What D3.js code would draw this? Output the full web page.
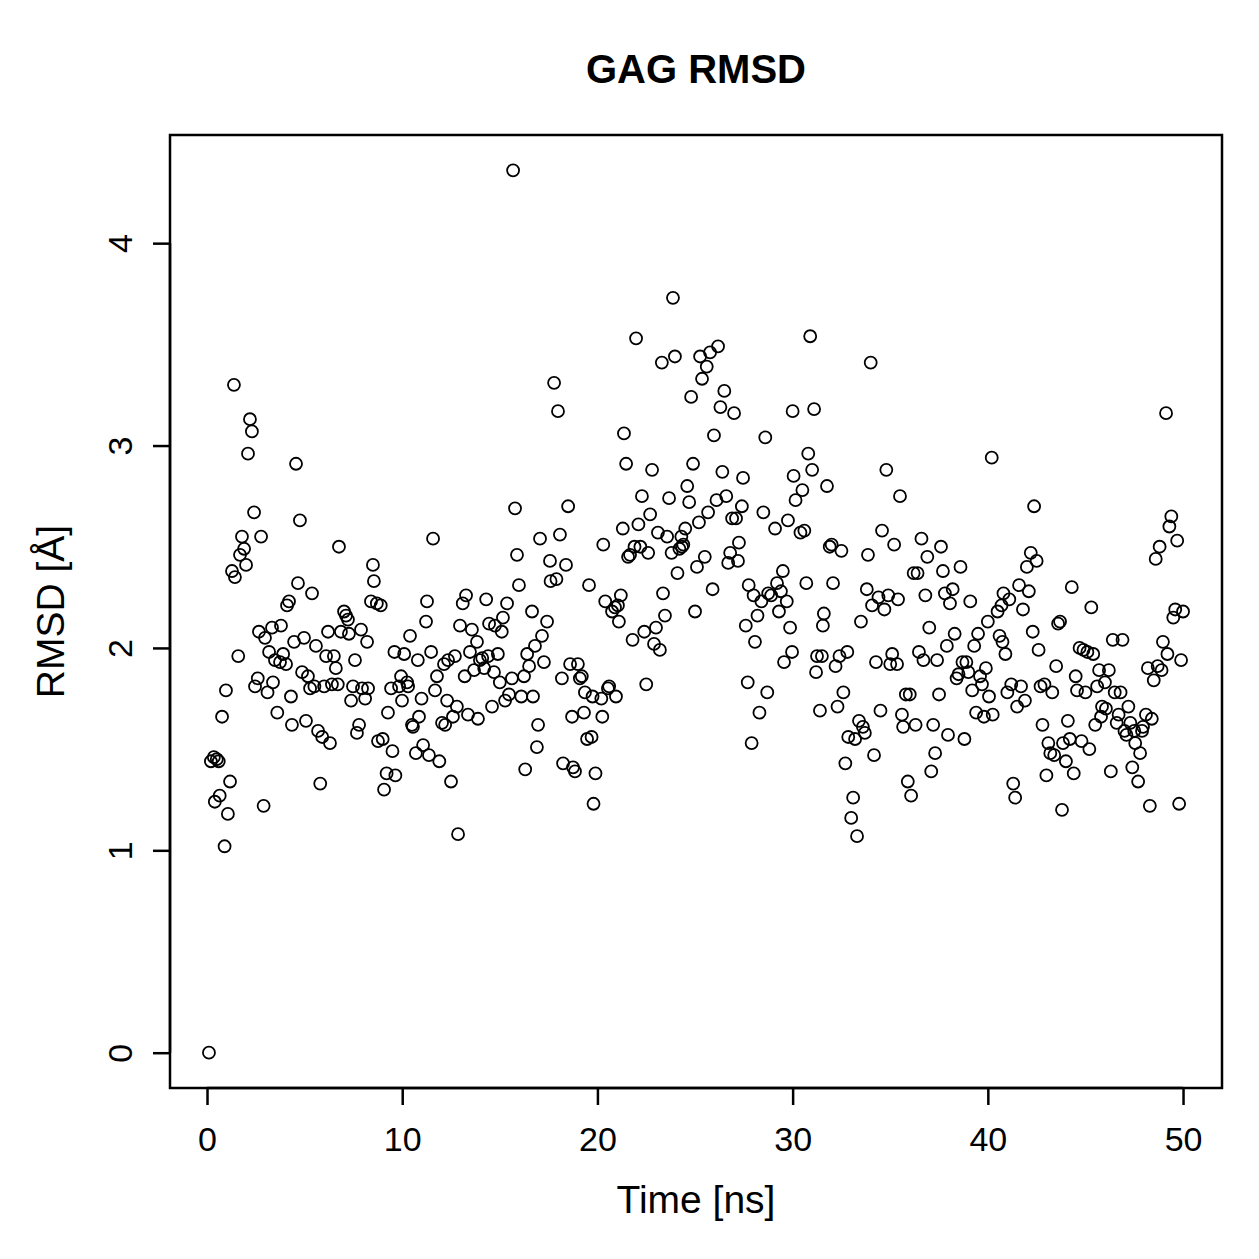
<!DOCTYPE html>
<html><head><meta charset="utf-8">
<script src="https://cdn.jsdelivr.net/npm/d3@7"></script>
<style>body{margin:0;background:#fff}svg{display:block}</style>
</head><body>
<script>
const chartTitle = "GAG RMSD";
const xLabel = "Time [ns]";
const yLabel = "RMSD [Å]";
const xTicks = [0, 10, 20, 30, 40, 50];
const yTicks = [0, 1, 2, 3, 4];

const timeNs = [
0.1,0.2,0.35,0.4,0.5,0.6,0.65,0.77,0.9,0.97,1.07,1.18,1.28,1.38,1.43,1.6,1.69,1.79,1.9,2.0,
2.1,2.2,2.3,2.41,2.46,2.6,2.66,2.77,2.9,2.97,3.1,3.18,3.33,3.38,3.48,3.6,3.74,3.79,3.9,4.05,
4.1,4.2,4.3,4.35,4.46,4.56,4.66,4.76,4.87,4.97,5.07,5.17,5.28,5.38,5.5,5.58,5.69,5.8,5.9,6.0,
6.1,6.2,6.3,6.4,6.5,6.6,6.7,6.76,6.86,7.02,7.12,7.22,7.27,7.38,7.48,7.58,7.68,7.79,7.89,7.94,
8.1,8.2,8.25,8.4,8.5,8.55,8.7,8.76,8.9,9.0,9.07,9.2,9.27,9.43,9.5,9.6,9.65,9.84,9.94,9.99,
10.1,10.25,10.3,10.4,10.5,10.55,10.7,10.8,10.86,10.99,11.07,11.22,11.27,11.37,11.48,11.58,11.68,11.78,11.9,12.04,
12.14,12.2,12.3,12.35,12.5,12.6,12.7,12.8,12.86,12.96,13.1,13.2,13.27,13.37,13.47,13.57,13.68,13.83,13.88,13.98,
14.1,14.2,14.3,14.4,14.45,14.6,14.7,14.75,14.9,15.0,15.1,15.16,15.27,15.37,15.47,15.62,15.68,15.78,15.88,15.98,
16.1,16.24,16.3,16.4,16.5,16.65,16.7,16.8,16.9,16.96,17.06,17.16,17.26,17.42,17.57,17.6,17.78,17.9,17.98,18.08,
18.18,18.24,18.39,18.5,18.6,18.7,18.75,18.85,19.0,19.1,19.2,19.31,19.36,19.47,19.57,19.7,19.75,19.8,19.9,20.2,
20.25,20.3,20.4,20.54,20.6,20.75,20.9,20.95,21.05,21.1,21.2,21.3,21.36,21.47,21.57,21.67,21.8,21.9,21.98,22.1,
22.2,22.28,22.4,22.5,22.6,22.7,22.8,22.9,23.0,23.1,23.2,23.3,23.36,23.46,23.57,23.67,23.8,23.87,23.97,24.1,
24.2,24.3,24.33,24.4,24.5,24.6,24.7,24.8,24.9,25.0,25.1,25.2,25.26,25.36,25.5,25.6,25.67,25.77,25.9,25.97,
26.1,26.18,26.3,26.4,26.5,26.6,26.7,26.8,26.9,27.0,27.1,27.2,27.25,27.4,27.46,27.6,27.7,27.75,27.9,28.0,
28.07,28.2,28.3,28.4,28.5,28.6,28.7,28.75,28.9,29.1,29.2,29.3,29.4,29.5,29.56,29.7,29.76,29.87,29.97,30.0,
30.05,30.15,30.4,30.5,30.6,30.7,30.8,30.9,31.0,31.1,31.2,31.25,31.4,31.5,31.55,31.6,31.76,31.9,32.0,32.07,
32.2,32.3,32.4,32.5,32.6,32.7,32.8,32.85,33.0,33.1,33.2,33.3,33.4,33.5,33.6,33.7,33.8,33.86,34.0,34.07,
34.17,34.27,34.4,34.5,34.58,34.7,34.8,34.9,35.0,35.1,35.2,35.35,35.4,35.5,35.6,35.66,35.8,35.9,36.0,36.07,
36.2,36.3,36.4,36.47,36.6,36.7,36.8,36.9,37.0,37.1,37.2,37.3,37.4,37.5,37.6,37.7,37.8,37.9,37.96,38.06,
38.2,38.3,38.4,38.5,38.6,38.7,38.8,38.9,39.0,39.1,39.2,39.3,39.4,39.5,39.6,39.7,39.8,39.9,40.0,40.06,
40.2,40.25,40.5,40.6,40.7,40.75,40.8,40.9,41.0,41.1,41.2,41.3,41.4,41.5,41.6,41.7,41.8,41.9,42.0,42.1,
42.2,42.3,42.37,42.5,42.6,42.7,42.8,42.9,43.0,43.1,43.2,43.3,43.4,43.5,43.6,43.7,43.8,43.85,44.0,44.1,
44.2,44.3,44.4,44.5,44.57,44.7,44.8,44.9,45.0,45.1,45.2,45.3,45.4,45.5,45.6,45.7,45.8,45.85,46.0,46.05,
46.2,46.3,46.4,46.5,46.6,46.7,46.8,46.9,47.0,47.1,47.2,47.3,47.4,47.5,47.55,47.7,47.8,47.9,47.95,48.1,
48.2,48.3,48.4,48.5,48.6,48.7,48.8,48.9,48.97,49.13,49.2,49.3,49.4,49.5,49.6,49.7,49.8,49.9,50.0
];

const rmsd = [
0.00,1.44,1.46,1.24,1.45,1.44,1.27,1.66,1.02,1.79,1.18,1.34,2.38,3.30,2.35,1.96,2.46,2.55,2.49,2.41,
2.96,3.13,3.07,2.67,1.81,1.85,2.08,2.55,1.22,2.05,1.78,1.98,2.10,1.83,1.94,1.68,1.93,2.11,1.97,1.92,
2.21,2.23,1.76,1.62,2.03,2.91,2.32,2.63,1.88,2.05,1.64,1.86,1.80,2.27,1.81,2.01,1.59,1.33,1.56,1.81,
1.96,2.08,1.53,1.82,1.96,1.90,1.82,2.50,2.08,2.18,2.16,2.14,2.07,1.74,1.81,1.94,1.58,1.62,2.09,1.80,
1.75,2.03,1.80,2.23,2.41,2.33,2.22,1.54,2.21,1.55,1.30,1.38,1.68,1.80,1.49,1.98,1.37,1.81,1.86,1.74,
1.97,1.83,1.81,2.06,1.62,1.61,1.48,1.94,1.66,1.75,1.52,2.13,2.23,1.47,1.98,2.54,1.79,1.86,1.44,1.63,
1.92,1.62,1.74,1.94,1.34,1.66,1.96,1.71,1.08,2.11,2.22,1.86,2.26,1.67,1.98,2.09,1.89,2.03,1.65,1.94,
1.95,1.90,2.24,1.96,2.12,1.71,1.88,2.11,1.97,1.83,2.08,2.15,1.74,2.22,1.77,1.85,4.36,2.69,2.46,2.31,
1.76,1.86,1.40,1.97,1.91,2.18,1.76,2.01,1.51,1.62,2.54,2.06,1.93,2.13,2.43,2.33,3.31,2.34,3.17,2.56,
1.85,1.43,2.41,2.70,1.92,1.66,1.41,1.39,1.92,1.85,1.86,1.68,1.78,1.55,2.31,1.56,1.76,1.23,1.38,1.75,
1.66,2.51,2.23,1.80,1.81,2.18,2.20,1.76,2.21,2.13,2.26,2.59,3.06,2.91,2.45,2.46,2.04,2.50,3.53,2.61,
2.50,2.75,2.08,1.82,2.47,2.66,2.88,2.02,2.10,2.57,1.99,3.41,2.27,2.16,2.55,2.74,2.47,3.73,3.44,2.37,
2.49,2.55,2.50,2.51,2.59,2.80,2.72,3.24,2.91,2.18,2.40,2.62,3.44,3.33,2.45,3.39,2.67,3.46,2.29,3.05,
2.73,3.49,3.19,2.87,3.27,2.75,2.42,2.47,2.64,3.16,2.64,2.43,2.52,2.70,2.84,2.11,1.83,2.31,1.53,2.26,
2.03,2.16,1.68,2.23,2.67,3.04,1.78,2.27,2.26,2.59,2.32,2.18,2.28,2.38,1.93,2.23,2.63,2.10,1.98,3.17,
2.85,2.73,2.57,2.78,2.58,2.32,2.96,3.54,2.88,3.18,1.88,1.96,1.69,1.96,2.11,2.17,2.80,2.50,2.51,2.32,
1.91,1.71,1.96,2.48,1.78,1.43,1.98,1.56,1.16,1.26,1.55,1.07,1.64,2.13,1.61,1.58,2.29,2.46,3.41,2.21,
1.47,1.93,2.25,1.69,2.58,2.19,2.88,2.26,1.92,1.97,2.51,1.92,2.24,2.75,1.67,1.61,1.77,1.34,1.77,1.27,
2.37,1.62,2.37,1.98,2.54,1.94,2.26,2.45,2.10,1.39,1.62,1.48,1.94,1.77,2.50,2.38,2.27,2.01,1.57,2.22,
2.29,2.07,1.85,1.87,2.40,1.93,1.55,1.93,1.88,2.23,1.79,2.01,1.68,2.07,1.86,1.82,1.66,1.90,2.13,1.76,
2.94,1.67,2.18,2.06,2.21,2.03,2.27,1.97,1.78,2.24,1.82,1.33,1.26,1.71,2.31,1.81,2.19,1.74,2.40,2.28,
2.47,2.08,2.70,2.43,1.99,1.81,1.62,1.82,1.37,1.53,1.48,1.78,1.47,1.91,2.12,2.13,1.20,1.53,1.44,1.64,
1.55,2.30,1.38,1.86,1.79,2.00,1.54,1.99,1.78,1.98,1.50,2.20,1.97,1.62,1.81,1.89,1.66,1.71,1.83,1.70,
1.89,1.39,2.04,1.78,1.63,1.67,1.78,2.04,1.59,1.57,1.71,1.63,1.41,1.59,1.53,1.34,1.48,1.59,1.61,1.67,
1.90,1.22,1.65,1.84,2.44,1.91,2.50,1.89,2.03,3.16,1.97,2.60,2.65,2.15,2.19,2.53,1.23,1.94,2.18
];

const W = 1259, H = 1259;
const plot = {left: 170, right: 1222, top: 135, bottom: 1088};
const font = "'Liberation Sans', Arial, Helvetica, sans-serif";

const svg = d3.select("body").append("svg").attr("width", W).attr("height", H);

function padded(ext) { const d = (ext[1] - ext[0]) * 0.04; return [ext[0] - d, ext[1] + d]; }
const x = d3.scaleLinear().domain(padded(d3.extent(timeNs))).range([plot.left, plot.right]);
const y = d3.scaleLinear().domain(padded(d3.extent(rmsd))).range([plot.bottom, plot.top]);

const data = timeNs.map((t, i) => ({t, v: rmsd[i]}));

svg.append("g").selectAll("circle").data(data).join("circle")
  .attr("cx", d => x(d.t)).attr("cy", d => y(d.v)).attr("r", 6)
  .attr("fill", "none").attr("stroke", "#000").attr("stroke-width", 1.8);

svg.append("rect").attr("x", plot.left).attr("y", plot.top)
  .attr("width", plot.right - plot.left).attr("height", plot.bottom - plot.top)
  .attr("fill", "none").attr("stroke", "#000").attr("stroke-width", 2.5);

const xAxis = svg.append("g").attr("transform", `translate(0,${plot.bottom})`)
  .call(d3.axisBottom(x).tickValues(xTicks).tickSize(17).tickPadding(22).tickFormat(d3.format("d")));
xAxis.select(".domain").attr("d", `M${x(xTicks[0])},0H${x(xTicks[xTicks.length-1])}`).attr("stroke-width", 2.5);
xAxis.selectAll(".tick line").attr("stroke-width", 2.5);
xAxis.selectAll("text").attr("font-family", font).attr("font-size", 34).attr("fill", "#000");

const yAxis = svg.append("g").attr("transform", `translate(${plot.left},0)`)
  .call(d3.axisLeft(y).tickValues(yTicks).tickSize(17).tickFormat(d3.format("d")));
yAxis.select(".domain").attr("d", `M0,${y(yTicks[0])}V${y(yTicks[yTicks.length-1])}`).attr("stroke-width", 2.5);
yAxis.selectAll(".tick line").attr("stroke-width", 2.5);
yAxis.selectAll("text").attr("font-family", font).attr("font-size", 34).attr("fill", "#000")
  .attr("x", null).attr("dy", null).attr("text-anchor", "middle")
  .attr("transform", "translate(-38,0) rotate(-90)");

svg.append("text").attr("x", (plot.left + plot.right) / 2).attr("y", 83)
  .attr("text-anchor", "middle").attr("font-family", font).attr("font-weight", "bold")
  .attr("font-size", 40).text(chartTitle);

svg.append("text").attr("x", (plot.left + plot.right) / 2).attr("y", 1213)
  .attr("text-anchor", "middle").attr("font-family", font).attr("font-size", 39).text(xLabel);

svg.append("text").attr("transform", `translate(64,${(plot.top + plot.bottom) / 2}) rotate(-90)`)
  .attr("text-anchor", "middle").attr("font-family", font).attr("font-size", 39).text(yLabel);
</script>
</body></html>
